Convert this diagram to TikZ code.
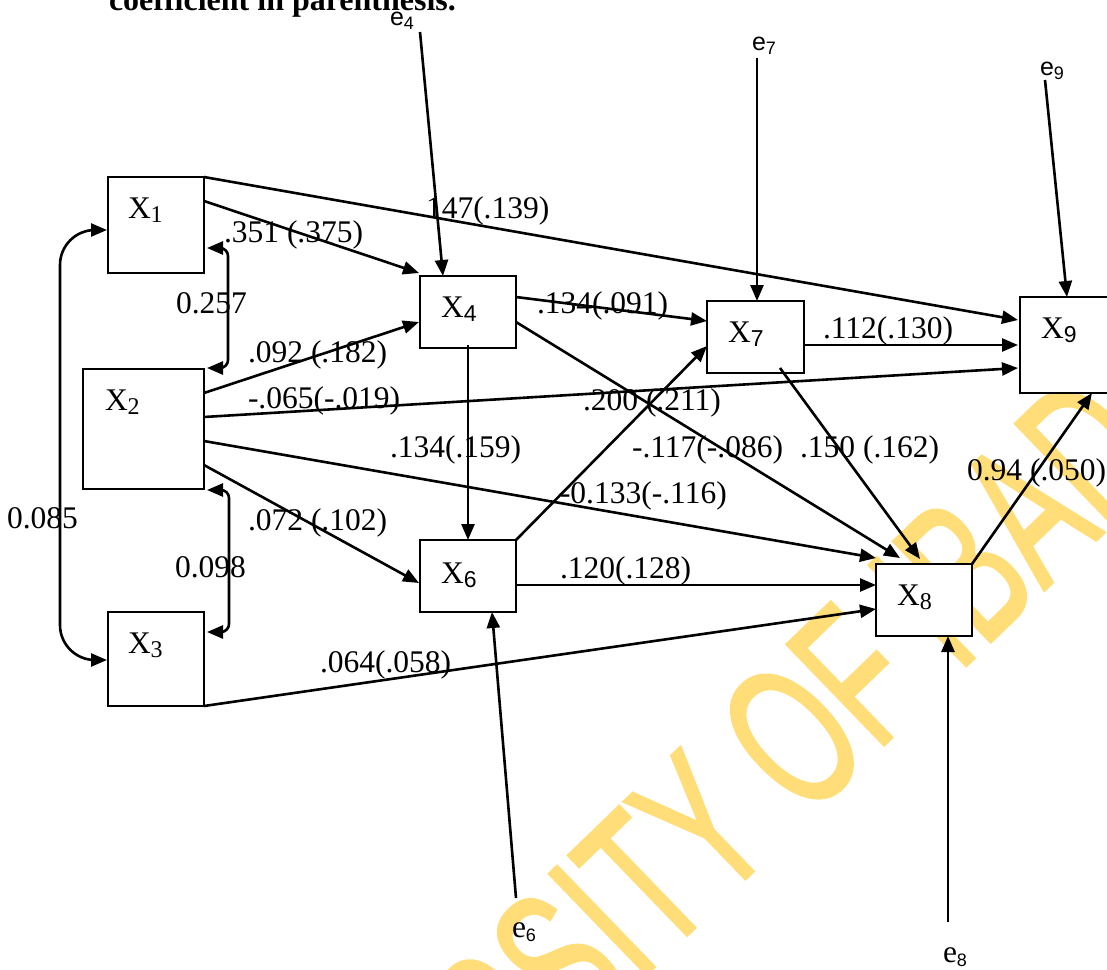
\documentclass[tikz,border=0pt]{standalone}
\usepackage{fontspec}
\setmainfont{Liberation Serif}
\newfontfamily\arialf{Liberation Sans}
\newfontfamily\wmfont[FakeBold=1.5]{Liberation Sans}
\usetikzlibrary{arrows.meta,calc}
\definecolor{wm}{RGB}{255,222,122}
\newcommand\subsr[1]{\raisebox{-4pt}{\fontsize{24}{24}\selectfont #1}}
\newcommand\subss[1]{\raisebox{-4pt}{\fontsize{23}{23}\selectfont\arialf #1}}
\newcommand\esub[1]{\raisebox{-4pt}{\fontsize{18}{18}\selectfont\arialf #1}}
\begin{document}
\begin{tikzpicture}[x=1pt,y=-1pt,
  every node/.style={inner sep=0pt, outer sep=0pt, font=\fontsize{31.5}{36}\selectfont},
  vbox/.style={draw, line width=2.2pt, fill=white},
  conn/.style={line width=2.6pt, -{Triangle[length=16pt,width=13pt]}},
  dbl/.style={line width=2.6pt, {Triangle[length=16pt,width=13pt]}-{Triangle[length=16pt,width=13pt]}},
  lab/.style={anchor=base west},
  elab/.style={anchor=base west, font=\fontsize{25}{30}\selectfont\arialf},
  elabr/.style={anchor=base west, font=\fontsize{31.5}{36}\selectfont}]
\path[use as bounding box] (0,0) rectangle (1107,969);
\clip (0,0) rectangle (1107,969);
% watermark
\node[rotate=44, text=wm, font=\fontsize{127}{150}\selectfont\wmfont] (wmark) at (716,810) {\scalebox{1}[1.6]{UNIVERSITY OF IBADAN}};
% heading (cut off)
\node[anchor=base west, font=\fontsize{32}{36}\selectfont\bfseries] (head) at (109,10) {coefficient in parenthesis.};
% boxes
\node[vbox, minimum width=96pt, minimum height=96pt] (x1) at (156,225) {};
\node[vbox, minimum width=121pt, minimum height=120pt] (x2) at (143.5,429) {};
\node[vbox, minimum width=96pt, minimum height=94pt] (x3) at (156,659) {};
\node[vbox, minimum width=96pt, minimum height=72pt] (x4) at (468,312) {};
\node[vbox, minimum width=96pt, minimum height=72pt] (x6) at (468,576) {};
\node[vbox, minimum width=97pt, minimum height=72pt] (x7) at (755.5,337) {};
\node[vbox, minimum width=96pt, minimum height=72pt] (x8) at (924,600) {};
\node[vbox, minimum width=96pt, minimum height=96pt] (x9) at (1068,345) {};
% box labels
\node[lab] (t1) at (128,218) {X\subsr{1}};
\node[lab] (t2) at (105,410) {X\subsr{2}};
\node[lab] (t3) at (128,653) {X\subsr{3}};
\node[lab] (t4) at (441,317) {X\subss{4}};
\node[lab] (t6) at (441,583) {X\subss{6}};
\node[lab] (t7) at (728,342) {X\subss{7}};
\node[lab] (t8) at (897,605) {X\subsr{8}};
\node[lab] (t9) at (1041,338) {X\subss{9}};
% error terms
\node[elab] (e4) at (390,25) {e\esub{4}};
\node[elab] (e7) at (752,50) {e\esub{7}};
\node[elab] (e9) at (1040,75) {e\esub{9}};
\node[elabr] (e6) at (512,937) {e\esub{6}};
\node[elabr] (e8) at (943,962) {e\esub{8}};
\coordinate (e4s) at (420,32);
\coordinate (e7s) at (757,58);
\coordinate (e9s) at (1045,80);
\coordinate (e6s) at (516,898);
\coordinate (e8s) at (948,922);
% connectors
\draw[conn] ([shift={(0,24)}]x1.north east) -- ([shift={(-1,-3)}]x4.north west);
\draw[conn] (x1.north east) -- ([shift={(-2,23)}]x9.north west);
\draw[conn] ([shift={(0,24)}]x2.north east) -- ([shift={(-1,46)}]x4.north west);
\draw[conn] ([shift={(0,48)}]x2.north east) -- ([shift={(-2,71)}]x9.north west);
\draw[conn] ([shift={(0,72)}]x2.north east) -- ([shift={(0,-6)}]x8.north west);
\draw[conn] ([shift={(0,96)}]x2.north east) -- ([shift={(-1,43)}]x6.north west);
\draw[conn] (x3.south east) -- ([shift={(0,45)}]x8.north west);
\draw[conn] ([shift={(0,21)}]x4.north east) -- ([shift={(0,20)}]x7.north west);
\draw[conn] ([shift={(0,-3)}]x4.south) -- (x6.north);
\draw[conn] ([shift={(0,46)}]x4.north east) -- ([shift={(24,-6)}]x8.north west);
\draw[conn] (x6.north east) -- ([shift={(0,45)}]x7.north west);
\draw[conn] ([shift={(0,45)}]x6.north east) -- ([shift={(0,21)}]x8.north west);
\draw[conn] ([shift={(0,44)}]x7.north east) -- ([shift={(-2,48)}]x9.north west);
\draw[conn] ([shift={(73,67)}]x7.north west) -- ([shift={(44,-5)}]x8.north west);
\draw[conn] (x8.north east) -- ([shift={(72,0)}]x9.south west);
\draw[conn] (e4s) -- ([shift={(23,0)}]x4.north west);
\draw[conn] (e7s) -- ([shift={(50,0)}]x7.north west);
\draw[conn] (e9s) -- ([shift={(47,0)}]x9.north west);
\draw[conn] (e6s) -- ([shift={(72,0)}]x6.south west);
\draw[conn] (e8s) -- ([shift={(72,0)}]x8.south west);
% correlations
\draw[dbl, rounded corners=8pt] ([shift={(3,-25)}]x1.south east) -- ++(21,0) |- ([shift={(3,-1)}]x2.north east);
\draw[dbl, rounded corners=8pt] ([shift={(3,1)}]x2.south east) -- ++(22,0) |- ([shift={(3,20)}]x3.north east);
\draw[dbl, rounded corners=35pt] ([shift={(-1,53)}]x1.north west) -- ++(-47,0) |- ([shift={(-1,48)}]x3.north west);
% labels
\node[lab] (l1) at (224,242) {.351 (.375)};
\node[lab] (l2) at (426,218) {147(.139)};
\node[lab] (l3) at (176,313) {0.257};
\node[lab] (l4) at (248,362) {.092 (.182)};
\node[lab] (l5) at (248,408) {-.065(-.019)};
\node[lab] (l6) at (537,313) {.134(.091)};
\node[lab] (l7) at (583,410) {.200 (.211)};
\node[lab] (l8) at (390,457) {.134(.159)};
\node[lab] (l9) at (632,457) {-.117(-.086)};
\node[lab] (l10) at (560,503) {-0.133(-.116)};
\node[lab] (l11) at (823,338) {.112(.130)};
\node[lab] (l12) at (800,457) {.150 (.162)};
\node[lab] (l13) at (967,480) {0.94 (.050)};
\node[lab] (l14) at (7,528) {0.085};
\node[lab] (l15) at (248,530) {.072 (.102)};
\node[lab] (l16) at (175,577) {0.098};
\node[lab] (l17) at (320,672) {.064(.058)};
\node[lab] (l18) at (560,578) {.120(.128)};
\end{tikzpicture}
\end{document}
